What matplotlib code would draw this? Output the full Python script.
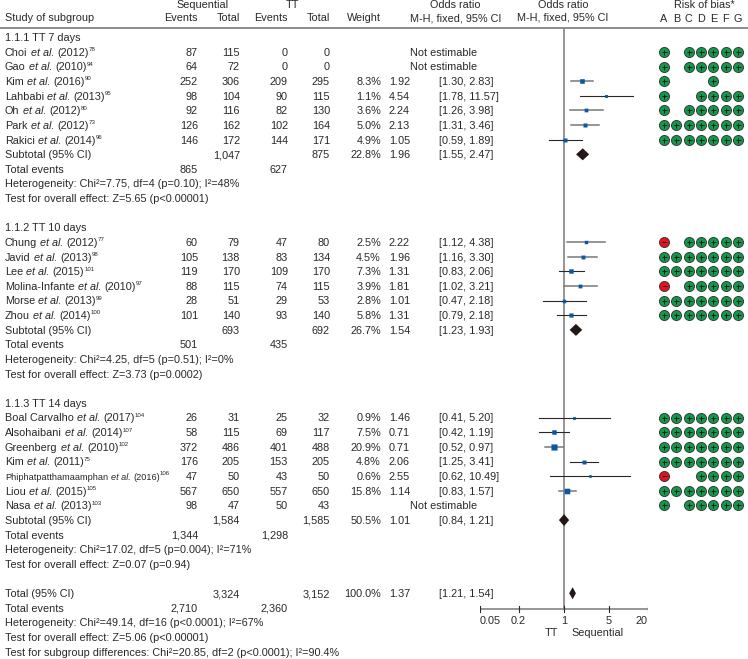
import matplotlib
matplotlib.use("Agg")
import matplotlib.pyplot as plt

plt.rcParams['font.family'] = ['Liberation Sans', 'DejaVu Sans']

# studies, one list per column (None = not estimable / empty)
names = ["Choi", "Gao", "Kim", "Lahbabi", "Oh", "Park", "Rakici",
         "Chung", "Javid", "Lee", "Molina-Infante", "Morse", "Zhou",
         "Boal Carvalho", "Alsohaibani", "Greenberg", "Kim", "Phiphatpatthamaamphan", "Liou", "Nasa"]
years = [2012, 2010, 2016, 2013, 2012, 2012, 2014,
         2012, 2013, 2015, 2010, 2013, 2014,
         2017, 2014, 2010, 2011, 2016, 2015, 2013]
refs = [78, 94, 90, 95, 80, 73, 96,
        77, 98, 101, 97, 99, 100,
        104, 107, 102, 75, 106, 105, 103]
seq_events = [87, 64, 252, 98, 92, 126, 146,
              60, 105, 119, 88, 28, 101,
              26, 58, 372, 176, 47, 567, 98]
seq_total = [115, 72, 306, 104, 116, 162, 172,
             79, 138, 170, 115, 51, 140,
             31, 115, 486, 205, 50, 650, 47]
tt_events = [0, 0, 209, 90, 82, 102, 144,
             47, 83, 109, 74, 29, 93,
             25, 69, 401, 153, 43, 557, 50]
tt_total = [0, 0, 295, 115, 130, 164, 171,
            80, 134, 170, 115, 53, 140,
            32, 117, 488, 205, 50, 650, 43]
weights = [None, None, 8.3, 1.1, 3.6, 5.0, 4.9,
           2.5, 4.5, 7.3, 3.9, 2.8, 5.8,
           0.9, 7.5, 20.9, 4.8, 0.6, 15.8, None]
odds = [None, None, 1.92, 4.54, 2.24, 2.13, 1.05,
        2.22, 1.96, 1.31, 1.81, 1.01, 1.31,
        1.46, 0.71, 0.71, 2.06, 2.55, 1.14, None]
ci_low = [None, None, 1.30, 1.78, 1.26, 1.31, 0.59,
          1.12, 1.16, 0.83, 1.02, 0.47, 0.79,
          0.41, 0.42, 0.52, 1.25, 0.62, 0.83, None]
ci_high = [None, None, 2.83, 11.57, 3.98, 3.46, 1.89,
           4.38, 3.30, 2.06, 3.21, 2.18, 2.18,
           5.20, 1.19, 0.97, 3.41, 10.49, 1.57, None]
# risk of bias, columns A-G
bias = ["+.+++++", "+.+++++", "+...+..", "+..++++", "+.+++++", "+++++++", "+++++++",
        "-.+++++", "+++++++", "+++++++", "-.+++++", "+++++++", "+++++++",
        "+++++++", "+++++++", "+++++++", "+++++++", "-..++++", "+++++++", "+.+++++"]
study_rows = [1, 2, 3, 4, 5, 6, 7,
              14, 15, 16, 17, 18, 19,
              26, 27, 28, 29, 30, 31, 32]
grey_ci = [2, 4, 5, 7, 8, 10, 15, 18]

# summary rows
sum_labels = ["Subtotal (95% CI)", "Subtotal (95% CI)", "Subtotal (95% CI)", "Total (95% CI)"]
sum_rows = [8, 20, 33, 38]
sum_seq_total = ["1,047", "693", "1,584", "3,324"]
sum_tt_total = ["875", "692", "1,585", "3,152"]
sum_weight = [22.8, 26.7, 50.5, 100.0]
sum_or = [1.96, 1.54, 1.01, 1.37]
sum_low = [1.55, 1.23, 0.84, 1.21]
sum_high = [2.47, 1.93, 1.21, 1.54]
event_rows = [9, 21, 34, 39]
event_seq = ["865", "501", "1,344", "2,710"]
event_tt = ["627", "435", "1,298", "2,360"]

group_rows = [0, 13, 25]
group_labels = ["1.1.1 TT 7 days", "1.1.2 TT 10 days", "1.1.3 TT 14 days"]
note_rows = [10, 11, 22, 23, 35, 36, 40, 41, 42]
note_labels = ["Heterogeneity: Chi²=7.75, df=4 (p=0.10); I²=48%",
               "Test for overall effect: Z=5.65 (p<0.00001)",
               "Heterogeneity: Chi²=4.25, df=5 (p=0.51); I²=0%",
               "Test for overall effect: Z=3.73 (p=0.0002)",
               "Heterogeneity: Chi²=17.02, df=5 (p=0.004); I²=71%",
               "Test for overall effect: Z=0.07 (p=0.94)",
               "Heterogeneity: Chi²=49.14, df=16 (p<0.0001); I²=67%",
               "Test for overall effect: Z=5.06 (p<0.00001)",
               "Test for subgroup differences: Chi²=20.85, df=2 (p<0.0001); I²=90.4%"]
xticks = [0.05, 0.2, 1, 5, 20]
xtick_align = ['left', 'center', 'center', 'center', 'right']
bias_letters = ["A", "B", "C", "D", "E", "F", "G"]

W, H = 748, 659
INK = '#2b2728'
GREY = '#8f8b8c'
FS = 7.8

def row_y(i):
    return 37.3 + 14.63 * i

fig = plt.figure(figsize=(W / 100, H / 100), dpi=100)
# whole figure axes in pixels, for the table
ax = fig.add_axes([0, 0, 1, 1])
ax.set_xlim(0, W)
ax.set_ylim(H, 0)
ax.axis('off')
# forest axes, log scale
fx = fig.add_axes([479.7 / W, 0, (647.9 - 479.7) / W, 1])
fx.set_xscale('log')
fx.set_xlim(0.05, 20)
fx.set_ylim(H, 0)
fx.axis('off')
fx.patch.set_alpha(0)
rend = fig.canvas.get_renderer()

def txt(x, y, s, ha='left', size=FS):
    # y is the middle of the capitals
    ax.text(x, y + 3.8 * size / FS, s, ha=ha, va='baseline', fontsize=size, color=INK)

def rich(x, y, pieces, size=FS):
    # pieces of (text, style), style n / i / s; placed one after the other
    base = y + 3.8
    for s, style in pieces:
        sz = size
        dy = 0
        if style == 's':
            sz = 4.4
            dy = -4.6
        lead = len(s) - len(s.lstrip(' '))
        x += lead * 0.278 * sz * 100 / 72
        t = ax.text(x, base + dy, s.strip(' '), ha='left', va='baseline', fontsize=sz, color=INK,
                    style='italic' if style == 'i' else 'normal')
        x += t.get_window_extent(rend).width
        trail = len(s) - len(s.rstrip(' '))
        x += trail * 0.278 * sz * 100 / 72

# header
txt(202.5, 4.5, "Sequential", 'center')
txt(292, 4.5, "TT", 'center')
txt(5, 17.5, "Study of subgroup")
txt(198, 17.5, "Events", 'right')
txt(240, 17.5, "Total", 'right')
txt(288, 17.5, "Events", 'right')
txt(330, 17.5, "Total", 'right')
txt(381, 17.5, "Weight", 'right')
txt(455, 4.5, "Odds ratio", 'center')
txt(456, 17.5, "M-H, fixed, 95% CI", 'center')
txt(563, 4.5, "Odds ratio", 'center')
txt(563, 17, "M-H, fixed, 95% CI", 'center')
txt(704, 4.5, "Risk of bias*", 'center')
bias_x = [664, 676.3, 688.7, 701, 713.3, 725.7, 738]
for x, l in zip(bias_x, bias_letters):
    txt(x, 18, l, 'center')
ax.plot([0, W], [28, 28], color=GREY, lw=1.4)

for r, s in zip(group_rows, group_labels):
    txt(5, row_y(r), s)

# studies
for i, r in enumerate(study_rows):
    y = row_y(r)
    size = 6.6 if names[i].startswith("Phiph") else FS
    rich(5, y, [(names[i] + " ", 'n'), ("et al.", 'i'), (" (%d)" % years[i], 'n'), (str(refs[i]), 's')], size)
    txt(198, y, str(seq_events[i]), 'right')
    txt(240, y, str(seq_total[i]), 'right')
    txt(288, y, str(tt_events[i]), 'right')
    txt(330, y, str(tt_total[i]), 'right')
    if odds[i] is None:
        txt(410, y, "Not estimable")
    else:
        txt(381, y, "%.1f%%" % weights[i], 'right')
        txt(410, y, "%.2f" % odds[i], 'right')
        txt(439, y, "[%.2f, %.2f]" % (ci_low[i], ci_high[i]))
        if i in grey_ci:
            fx.plot([ci_low[i], ci_high[i]], [y, y], color='#77787a', lw=1.1, zorder=3)
        else:
            fx.plot([ci_low[i], ci_high[i]], [y, y], color='#2b2728', lw=0.8, zorder=3)
        # square grows with the weight
        side = (0.9 * weights[i] ** 0.5 + 2.0) * 0.72
        fx.scatter([odds[i]], [y], s=side ** 2, marker='s', color='#0b57a4', linewidths=0, snap=False, zorder=4)
    for x, c in zip(bias_x, bias[i]):
        if c == '.':
            continue
        col = '#0f9b4a' if c == '+' else '#e8101c'
        ax.scatter([x], [y], s=52, color=col, edgecolors='#3a3a3a', linewidths=0.7, zorder=3)
        ax.plot([x], [y], '+' if c == '+' else '_', ms=3.6, mew=0.7, color='#1a1a1a', zorder=4)

# summaries
for i, r in enumerate(sum_rows):
    y = row_y(r)
    txt(5, y, sum_labels[i])
    txt(240, y, sum_seq_total[i], 'right')
    txt(330, y, sum_tt_total[i], 'right')
    txt(381, y, "%.1f%%" % sum_weight[i], 'right')
    txt(410, y, "%.2f" % sum_or[i], 'right')
    txt(439, y, "[%.2f, %.2f]" % (sum_low[i], sum_high[i]))
    fx.fill([sum_low[i], sum_or[i], sum_high[i], sum_or[i]], [y, y - 6, y, y + 6],
            color='#231815', lw=0, zorder=5)
for r, a, b in zip(event_rows, event_seq, event_tt):
    txt(5, row_y(r), "Total events")
    txt(198, row_y(r), a, 'right')
    txt(288, row_y(r), b, 'right')
for r, s in zip(note_rows, note_labels):
    txt(5, row_y(r), s)

# reference line and axis
fx.plot([1, 1], [28, 609], color=GREY, lw=1.3, zorder=2)
fx.plot([0.05, 20], [609, 609], color=GREY, lw=1.3, zorder=2)
for t, a in zip(xticks, xtick_align):
    fx.plot([t, t], [606, 612], color='#2b2728', lw=0.8, zorder=3)
    fx.text(t, 624.3, "%g" % t, ha=a, va='baseline', fontsize=FS, color=INK)
txt(551.5, 632.5, "TT", 'center')
txt(597.5, 632.5, "Sequential", 'center')

fig.savefig("out.png", dpi=100)
